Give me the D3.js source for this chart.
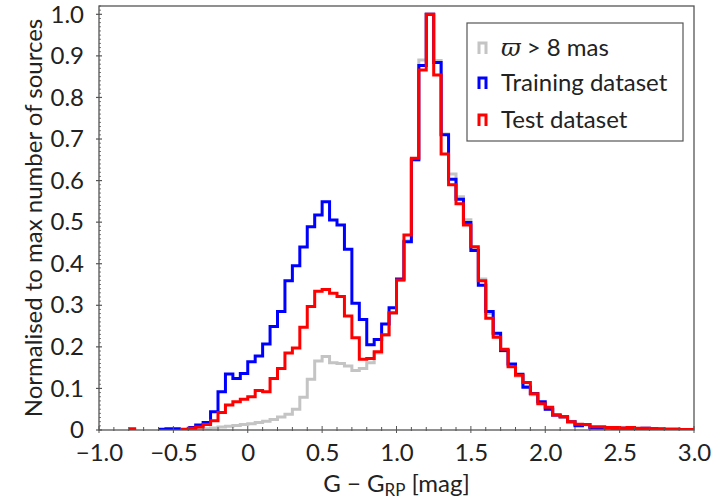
<!DOCTYPE html>
<html>
<head>
<meta charset="utf-8">
<script src="https://cdn.jsdelivr.net/npm/d3@7"></script>
<style>
  body { margin: 0; background: #fff; }
  text { font-family: Lato, "Liberation Sans", sans-serif; fill: #222; }
</style>
</head>
<body>
<svg id="chart" width="720" height="501"></svg>
<script>
// Colour histograms in 0.05 mag bins of G − G_RP, from −1.0 to 3.0 (80 bins),
// each normalised to its own maximum bin.
const binStart = -1.0;
const binWidth = 0.05;

// ϖ > 8 mas sample
const parallaxSample = [
  0, 0, 0, 0, 0, 0, 0, 0, 0, 0,
  0, 0, 0.001, 0.002, 0.003, 0.005, 0.007, 0.009, 0.011, 0.013,
  0.015, 0.018, 0.021, 0.025, 0.031, 0.038, 0.050, 0.079, 0.122, 0.166,
  0.177, 0.162, 0.160, 0.154, 0.143, 0.148, 0.162, 0.185, 0.228, 0.280,
  0.360, 0.455, 0.650, 0.890, 1.000, 0.889, 0.712, 0.616, 0.561, 0.506,
  0.437, 0.363, 0.280, 0.228, 0.190, 0.155, 0.130, 0.105, 0.085, 0.065,
  0.050, 0.035, 0.030, 0.020, 0.012, 0.012, 0.006, 0.005, 0.004, 0.003,
  0.003, 0.003, 0.002, 0.002, 0.002, 0.001, 0.001, 0.001, 0.001, 0
];

// Training dataset
const trainingSet = [
  0, 0, 0, 0, 0, 0, 0, 0, 0.002, 0.003,
  0.003, 0, 0.006, 0.012, 0.018, 0.044, 0.092, 0.135, 0.124, 0.136,
  0.164, 0.178, 0.207, 0.249, 0.285, 0.359, 0.395, 0.440, 0.489, 0.517,
  0.549, 0.505, 0.493, 0.435, 0.305, 0.266, 0.205, 0.218, 0.255, 0.294,
  0.363, 0.453, 0.650, 0.877, 1.000, 0.884, 0.710, 0.603, 0.555, 0.499,
  0.432, 0.348, 0.285, 0.233, 0.191, 0.159, 0.134, 0.103, 0.088, 0.068,
  0.050, 0.036, 0.032, 0.020, 0.010, 0.013, 0.005, 0.005, 0.005, 0.004,
  0.004, 0.004, 0.003, 0.004, 0.003, 0.002, 0.002, 0.002, 0.001, 0.001
];

// Test dataset
const testSet = [
  0, 0, 0, 0, 0.003, 0, 0, 0, 0, 0,
  0, 0.002, 0.004, 0.007, 0.013, 0.022, 0.042, 0.060, 0.068, 0.074,
  0.080, 0.095, 0.092, 0.124, 0.148, 0.185, 0.197, 0.247, 0.297, 0.334,
  0.338, 0.329, 0.321, 0.274, 0.222, 0.170, 0.172, 0.188, 0.229, 0.282,
  0.361, 0.469, 0.654, 0.866, 1.000, 0.854, 0.664, 0.590, 0.544, 0.493,
  0.441, 0.359, 0.269, 0.223, 0.194, 0.152, 0.132, 0.114, 0.087, 0.063,
  0.055, 0.036, 0.032, 0.020, 0.014, 0.013, 0.008, 0.008, 0.006, 0.006,
  0.005, 0.006, 0.004, 0.004, 0.003, 0.003, 0.002, 0.002, 0.001, 0.001
];

const xTicks = [-1, -0.5, 0, 0.5, 1, 1.5, 2, 2.5, 3];
const yTicks = [0, 0.1, 0.2, 0.3, 0.4, 0.5, 0.6, 0.7, 0.8, 0.9, 1.0];
const series = [
  { name: "parallax", values: parallaxSample, color: "#c4c4c4" },
  { name: "Training dataset", values: trainingSet, color: "#0000ff" },
  { name: "Test dataset", values: testSet, color: "#ff0000" }
];

const svg = d3.select("#chart");
const W = 720, H = 501;
svg.append("rect").attr("width", W).attr("height", H).attr("fill", "#fff");

const plot = { left: 99, right: 694, top: 6, bottom: 430 };
const x = d3.scaleLinear().domain([-1, 3]).range([plot.left, plot.right]);
const y = d3.scaleLinear().domain([0, 1.02]).range([plot.bottom, plot.top]);

const fmt = v => {
  if (v === 0) return "0";
  const s = Math.abs(v).toFixed(1);
  return (v < 0 ? "\u2212" : "") + s;
};

// Histogram outlines: one step path per sample, broken where a bin is empty
const stepLine = d3.line()
  .defined(d => d.v > 0)
  .x(d => x(d.x))
  .y(d => y(d.v));

function stepPoints(values) {
  const pts = [];
  values.forEach((v, i) => {
    const x0 = binStart + i * binWidth;
    pts.push({ x: x0, v });
    pts.push({ x: x0 + binWidth, v });
  });
  return pts;
}

svg.append("defs").append("clipPath").attr("id", "clip")
  .append("rect")
  .attr("x", plot.left).attr("y", plot.top)
  .attr("width", plot.right - plot.left).attr("height", plot.bottom - plot.top);

const lines = svg.append("g").attr("clip-path", "url(#clip)");
series.forEach(s => {
  lines.append("path")
    .attr("d", stepLine(stepPoints(s.values)))
    .attr("fill", "none")
    .attr("stroke", s.color)
    .attr("stroke-width", 3)
    .attr("stroke-linejoin", "miter")
    .attr("stroke-linecap", "butt");
});

// Axes
const axisColor = "#555";
const xAxis = d3.axisBottom(x).tickValues(xTicks).tickFormat(fmt).tickSize(0).tickPadding(14);
const gx = svg.append("g").attr("transform", `translate(0,${plot.bottom})`).call(xAxis);
gx.select(".domain").remove();
gx.selectAll("text").attr("font-size", 24).attr("font-family", "Lato, sans-serif").attr("fill", "#222");

const yAxis = d3.axisLeft(y).tickValues(yTicks).tickFormat(fmt).tickSize(0).tickPadding(15);
const gy = svg.append("g").attr("transform", `translate(${plot.left},0)`).call(yAxis);
gy.select(".domain").remove();
gy.selectAll("text").attr("font-size", 24).attr("font-family", "Lato, sans-serif").attr("fill", "#222");

// Tick marks
const tickG = svg.append("g").attr("stroke", axisColor);
d3.range(-10, 31).map(i => i / 10).forEach(v => {
  const major = xTicks.some(t => Math.abs(t - v) < 1e-9);
  tickG.append("line")
    .attr("x1", x(v)).attr("x2", x(v))
    .attr("y1", plot.bottom - (major ? 4 : 3)).attr("y2", plot.bottom + (major ? 3 : 1))
    .attr("stroke-width", 1);
});
d3.range(0, 103).map(i => i / 100).forEach(v => {
  const major = yTicks.some(t => Math.abs(t - v) < 1e-9);
  tickG.append("line")
    .attr("y1", y(v)).attr("y2", y(v))
    .attr("x1", plot.left - (major ? 3 : 0)).attr("x2", plot.left + (major ? 3 : 2))
    .attr("stroke-width", major ? 1.2 : 0.8);
});

// Frame
svg.append("rect")
  .attr("x", plot.left).attr("y", plot.top)
  .attr("width", plot.right - plot.left).attr("height", plot.bottom - plot.top)
  .attr("fill", "none").attr("stroke", axisColor).attr("stroke-width", 1.3);

// Axis titles
const xl = svg.append("text")
  .attr("x", (plot.left + plot.right) / 2).attr("y", 492)
  .attr("text-anchor", "middle").attr("font-size", 24);
xl.append("tspan").text("G \u2212 G");
xl.append("tspan").attr("font-size", 17).attr("dy", 4).text("RP");
xl.append("tspan").attr("dy", -4).text(" [mag]");

svg.append("text")
  .attr("transform", `translate(42,${(plot.top + plot.bottom) / 2}) rotate(-90)`)
  .attr("text-anchor", "middle").attr("font-size", 24)
  .text("Normalised to max number of sources");

// Legend
const leg = svg.append("g");
leg.append("rect")
  .attr("x", 467).attr("y", 23).attr("width", 216).attr("height", 118)
  .attr("fill", "#fff").attr("stroke", axisColor).attr("stroke-width", 1.2);
const rowY = [48, 83, 120];
series.forEach((s, i) => {
  const cy = rowY[i];
  leg.append("path")
    .attr("d", `M479,${cy + 6}V${cy - 5}H486V${cy + 6}`)
    .attr("fill", "none").attr("stroke", s.color).attr("stroke-width", 3)
    .attr("stroke-linejoin", "miter");
  const t = leg.append("text").attr("x", 501).attr("y", cy + 8).attr("font-size", 24);
  if (i === 0) {
    t.append("tspan").attr("font-family", "'DejaVu Serif', serif").attr("font-style", "italic").text("\u03d6");
    t.append("tspan").text(" > 8 mas");
  } else {
    t.text(s.name);
  }
});
</script>
</body>
</html>
